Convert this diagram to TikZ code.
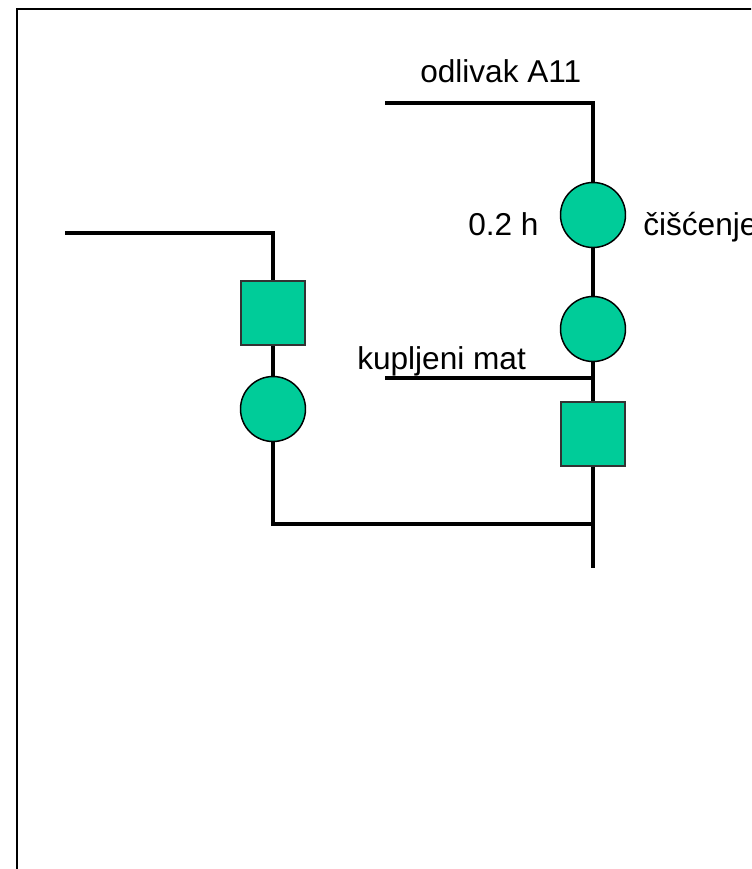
\documentclass[tikz,border=0pt]{standalone}
\usepackage{fontspec}
\setmainfont{Liberation Sans}
\begin{document}
\begin{tikzpicture}[x=0.75pt,y=-0.75pt,
  flow/.style={line width=3.3pt,line join=miter},
  opcircle/.style={circle,draw=black,line width=1.1pt,fill=opgreen,minimum size=65*0.75pt,inner sep=0pt},
  opsquare/.style={rectangle,draw=black!80,line width=1.1pt,fill=opgreen,minimum size=64*0.75pt,inner sep=0pt},
  lbl/.style={font=\fontsize{23.7pt}{28pt}\selectfont,inner sep=0pt,anchor=base west}]
\definecolor{opgreen}{HTML}{00CC99}
\clip (0,0) rectangle (751,869);
% frame
\draw[line width=1.6pt] (17,880) -- (17,9) -- (760,9);

% right branch
\node[opcircle] (c1) at (593,215) {};
\node[opcircle] (c2) at (593,329) {};
\node[opsquare] (s1) at (593,434) {};
\coordinate (a11) at (385,103);
\coordinate (a11c) at (593,103);
\coordinate (km) at (385,378);
\coordinate (kmj) at (593,378);
\coordinate (join) at (593,524);
\coordinate (out) at (593,568);

% left branch
\node[opsquare] (s2) at (273,313) {};
\node[opcircle] (c3) at (273,409) {};
\coordinate (l0) at (65,233);
\coordinate (l1) at (273,233);
\coordinate (l2) at (273,524);

% connectors
\draw[flow] (a11) -- (a11c) -- (c1.north);
\draw[flow] (c1.south) -- (c2.north);
\draw[flow] (c2.south) -- (s1.north);
\draw[flow] (km) -- (kmj);
\draw[flow] (s1.south) -- (out);
\draw[flow] (l0) -- (l1) -- (s2.north);
\draw[flow] (s2.south) -- (c3.north);
\draw[flow] (c3.south) -- (l2) -- (join);

% labels
\node[lbl] (t1) at (420,82) {odlivak A11};
\node[lbl] (t2) at (468,235) {0.2 h};
\node[lbl] (t3) at (643,235) {čišćenje};
\node[lbl] (t4) at (357,369) {kupljeni mat};
\end{tikzpicture}
\end{document}
